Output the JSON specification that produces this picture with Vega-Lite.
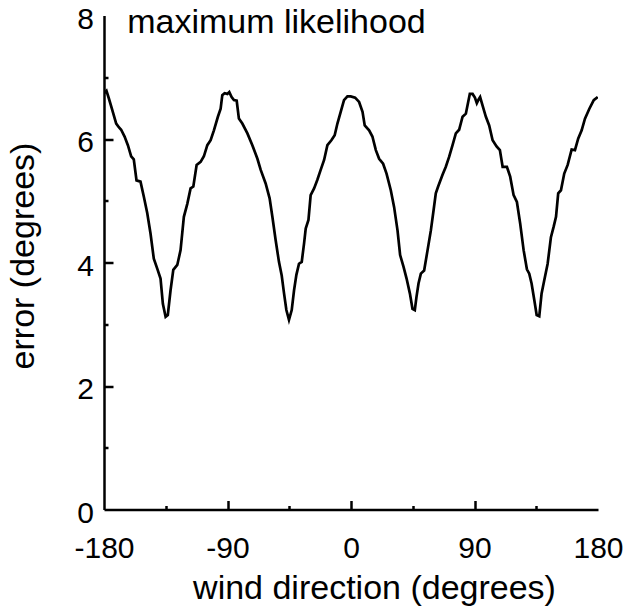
{
  "$schema": "https://vega.github.io/schema/vega-lite/v6.json",
  "width": 494,
  "height": 494,
  "autosize": {"type": "none"},
  "padding": {"left": 104, "top": 15.5, "right": 29, "bottom": 101.5},
  "background": "white",
  "config": {
    "view": {"stroke": null},
    "font": "Liberation Sans",
    "axis": {
      "grid": false,
      "domainColor": "black",
      "domainWidth": 2.5,
      "tickColor": "black",
      "tickWidth": 2.5,
      "labelColor": "black",
      "titleColor": "black",
      "labelFont": "Liberation Sans",
      "titleFont": "Liberation Sans",
      "labelFontSize": 30,
      "titleFontSize": 34,
      "titleFontWeight": "normal"
    }
  },
  "datasets": {
    "curve": [
      {"dir": -180, "err": 6.74}, {"dir": -178.2, "err": 6.78}, {"dir": -176.5, "err": 6.66}, {"dir": -174, "err": 6.47},
      {"dir": -171.1, "err": 6.25}, {"dir": -169.2, "err": 6.19}, {"dir": -167.5, "err": 6.15}, {"dir": -165, "err": 6.04},
      {"dir": -162.6, "err": 5.9}, {"dir": -160.2, "err": 5.72}, {"dir": -158.3, "err": 5.67}, {"dir": -156.3, "err": 5.33},
      {"dir": -153.4, "err": 5.31}, {"dir": -151, "err": 5.07}, {"dir": -148.5, "err": 4.8}, {"dir": -146.1, "err": 4.47},
      {"dir": -143.7, "err": 4.06}, {"dir": -141.2, "err": 3.9}, {"dir": -138.8, "err": 3.74}, {"dir": -137.1, "err": 3.33},
      {"dir": -135.1, "err": 3.12}, {"dir": -133.5, "err": 3.15}, {"dir": -131.5, "err": 3.55}, {"dir": -129.5, "err": 3.88},
      {"dir": -126.6, "err": 3.96}, {"dir": -124.2, "err": 4.2}, {"dir": -121.8, "err": 4.74}, {"dir": -119.3, "err": 4.95},
      {"dir": -116.9, "err": 5.2}, {"dir": -114.9, "err": 5.23}, {"dir": -112.5, "err": 5.58}, {"dir": -109.6, "err": 5.63},
      {"dir": -107.2, "err": 5.72}, {"dir": -104.7, "err": 5.9}, {"dir": -102.3, "err": 5.98}, {"dir": -99.9, "err": 6.14},
      {"dir": -97, "err": 6.36}, {"dir": -95, "err": 6.49}, {"dir": -93.8, "err": 6.71}, {"dir": -92.1, "err": 6.74},
      {"dir": -90.1, "err": 6.73}, {"dir": -88.7, "err": 6.76}, {"dir": -87, "err": 6.68}, {"dir": -85.3, "err": 6.63},
      {"dir": -83.3, "err": 6.62}, {"dir": -81.7, "err": 6.33}, {"dir": -79.2, "err": 6.25}, {"dir": -75.5, "err": 6.09},
      {"dir": -71.9, "err": 5.9}, {"dir": -68.2, "err": 5.68}, {"dir": -65.8, "err": 5.5}, {"dir": -62.2, "err": 5.28},
      {"dir": -59.3, "err": 5.04}, {"dir": -57.3, "err": 4.74}, {"dir": -54.9, "err": 4.36}, {"dir": -52.5, "err": 4.01},
      {"dir": -50.5, "err": 3.79}, {"dir": -48.8, "err": 3.5}, {"dir": -47.1, "err": 3.23}, {"dir": -45.2, "err": 3.07},
      {"dir": -43.2, "err": 3.23}, {"dir": -41.5, "err": 3.55}, {"dir": -39.8, "err": 3.8}, {"dir": -37.9, "err": 3.98},
      {"dir": -35.9, "err": 4.01}, {"dir": -34.2, "err": 4.31}, {"dir": -33, "err": 4.55}, {"dir": -31, "err": 4.69},
      {"dir": -29.4, "err": 5.09}, {"dir": -26.9, "err": 5.2}, {"dir": -24.5, "err": 5.34}, {"dir": -22.1, "err": 5.5},
      {"dir": -19.6, "err": 5.66}, {"dir": -17.2, "err": 5.9}, {"dir": -14.3, "err": 5.98}, {"dir": -11.9, "err": 6.06},
      {"dir": -9.9, "err": 6.25}, {"dir": -7.5, "err": 6.44}, {"dir": -5.1, "err": 6.63}, {"dir": -2.6, "err": 6.69},
      {"dir": -0.2, "err": 6.69}, {"dir": 3, "err": 6.67}, {"dir": 5.9, "err": 6.6}, {"dir": 8.4, "err": 6.44},
      {"dir": 10, "err": 6.22}, {"dir": 13.2, "err": 6.14}, {"dir": 15.6, "err": 6.04}, {"dir": 18.1, "err": 5.82},
      {"dir": 20.5, "err": 5.68}, {"dir": 23.4, "err": 5.6}, {"dir": 25.9, "err": 5.44}, {"dir": 29, "err": 5.17},
      {"dir": 31.4, "err": 4.9}, {"dir": 33.9, "err": 4.52}, {"dir": 35.8, "err": 4.12}, {"dir": 38.3, "err": 3.93},
      {"dir": 40.5, "err": 3.74}, {"dir": 42.9, "err": 3.5}, {"dir": 44.8, "err": 3.25}, {"dir": 46.5, "err": 3.23},
      {"dir": 47.7, "err": 3.44}, {"dir": 49.2, "err": 3.66}, {"dir": 50.9, "err": 3.82}, {"dir": 53.3, "err": 3.87},
      {"dir": 55.8, "err": 4.2}, {"dir": 58.2, "err": 4.52}, {"dir": 60.2, "err": 4.85}, {"dir": 61.8, "err": 5.12},
      {"dir": 63.5, "err": 5.23}, {"dir": 66.7, "err": 5.42}, {"dir": 69.1, "err": 5.55}, {"dir": 71.5, "err": 5.71},
      {"dir": 74, "err": 5.9}, {"dir": 76.4, "err": 6.09}, {"dir": 78.8, "err": 6.15}, {"dir": 81.3, "err": 6.36},
      {"dir": 83.7, "err": 6.41}, {"dir": 85.4, "err": 6.6}, {"dir": 86.6, "err": 6.73}, {"dir": 88.6, "err": 6.73},
      {"dir": 90.3, "err": 6.67}, {"dir": 91.7, "err": 6.58}, {"dir": 93, "err": 6.64}, {"dir": 94.1, "err": 6.68},
      {"dir": 95.9, "err": 6.54}, {"dir": 98.3, "err": 6.36}, {"dir": 100.7, "err": 6.22}, {"dir": 103.2, "err": 5.98},
      {"dir": 106.1, "err": 5.88}, {"dir": 108.5, "err": 5.82}, {"dir": 110.5, "err": 5.55}, {"dir": 113.6, "err": 5.55},
      {"dir": 116, "err": 5.39}, {"dir": 118.5, "err": 5.09}, {"dir": 120.9, "err": 4.98}, {"dir": 123.3, "err": 4.63},
      {"dir": 125.8, "err": 4.2}, {"dir": 128.2, "err": 3.89}, {"dir": 129.9, "err": 3.82}, {"dir": 131.6, "err": 3.66},
      {"dir": 133.6, "err": 3.39}, {"dir": 135.3, "err": 3.15}, {"dir": 137.2, "err": 3.13}, {"dir": 138.9, "err": 3.5},
      {"dir": 140.8, "err": 3.71}, {"dir": 143.3, "err": 3.98}, {"dir": 145.7, "err": 4.41}, {"dir": 147.7, "err": 4.58},
      {"dir": 149.4, "err": 4.74}, {"dir": 151, "err": 5.12}, {"dir": 153, "err": 5.17}, {"dir": 155.4, "err": 5.44},
      {"dir": 157.9, "err": 5.58}, {"dir": 160.8, "err": 5.83}, {"dir": 163.2, "err": 5.82}, {"dir": 165.6, "err": 6.01},
      {"dir": 168.1, "err": 6.14}, {"dir": 170.5, "err": 6.33}, {"dir": 173.7, "err": 6.49}, {"dir": 176.9, "err": 6.63},
      {"dir": 179.8, "err": 6.68}
    ],
    "note": [{"dir": -163.1, "err": 7.71, "text": "maximum likelihood"}]
  },
  "layer": [
    {
      "data": {"name": "curve"},
      "mark": {"type": "line", "color": "black", "strokeWidth": 2.7, "clip": true},
      "encoding": {
        "x": {
          "field": "dir", "type": "quantitative",
          "scale": {"domain": [-180, 180], "nice": false, "zero": false},
          "axis": {
            "title": "wind direction (degrees)",
            "values": [-180, -135, -90, -45, 0, 45, 90, 135, 180],
            "labelExpr": "datum.value % 90 === 0 ? '' + datum.value : ''",
            "tickSize": {"condition": {"test": "datum.value % 90 === 0", "value": -9}, "value": -4},
            "tickOpacity": {"condition": {"test": "abs(datum.value) === 180", "value": 0}, "value": 1},
            "labelPadding": 33,
            "labelFlush": false,
            "labelOverlap": false,
            "titleX": 270,
            "titleY": 89,
            "titleAnchor": null,
            "titleAlign": "center",
            "titleBaseline": "alphabetic"
          }
        },
        "y": {
          "field": "err", "type": "quantitative",
          "scale": {"domain": [0, 8], "nice": false, "zero": true},
          "axis": {
            "title": "error (degrees)",
            "values": [0, 1, 2, 3, 4, 5, 6, 7, 8],
            "labelExpr": "datum.value % 2 === 0 ? '' + datum.value : ''",
            "tickSize": {"condition": {"test": "datum.value % 2 === 0", "value": -9}, "value": -4},
            "tickOpacity": {"condition": {"test": "datum.value === 0 || datum.value === 8", "value": 0}, "value": 1},
            "labelPadding": 19.5,
            "labelOffset": 3.5,
            "labelFlush": false,
            "labelOverlap": false,
            "titleAngle": 270,
            "titleX": -70.7,
            "titleY": 240,
            "titleAlign": "center",
            "titleBaseline": "alphabetic"
          }
        }
      }
    },
    {
      "data": {"name": "note"},
      "mark": {"type": "text", "align": "left", "baseline": "alphabetic", "fontSize": 34, "font": "Liberation Sans", "color": "black"},
      "encoding": {
        "x": {"field": "dir", "type": "quantitative"},
        "y": {"field": "err", "type": "quantitative"},
        "text": {"field": "text"}
      }
    }
  ]
}
